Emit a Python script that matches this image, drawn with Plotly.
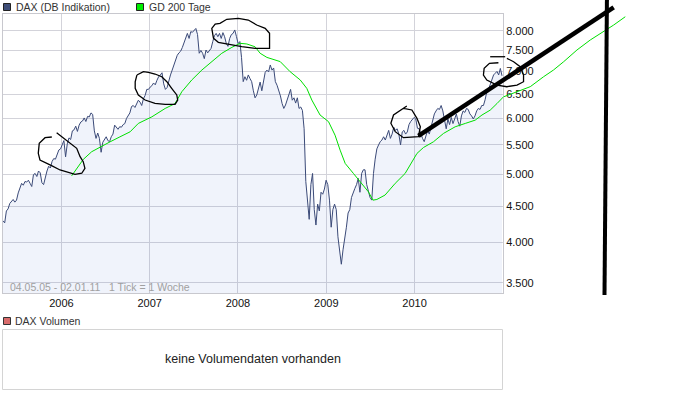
import math
import pandas as pd
import plotly.graph_objects as go

# ---------------- data ----------------
start_date = "2005-05-04"
dax_2005 = [4290, 4260, 4430, 4460, 4540, 4570, 4600, 4560, 4590, 4700, 4790, 4850, 4820, 4880, 4870,
            4900, 4850, 4800, 4990, 5010, 4960, 5050, 5020, 4860, 4830, 4950, 5050, 5130, 5100, 5210,
            5260, 5250, 5340, 5410, 5430]
dax_2006 = [5520, 5580, 5290, 5520, 5630, 5600, 5760, 5780, 5850, 5750, 5870, 5930, 5950, 6010, 5940,
            6040, 6030, 6110, 6080, 5760, 5620, 5720, 5620, 5370, 5550, 5600, 5650, 5580, 5560, 5650,
            5700, 5870, 5820, 5790, 5840, 5830, 5880, 5900, 6000, 6050, 6110, 6240, 6260, 6220, 6280,
            6370, 6330, 6260, 6400, 6470, 6600, 6600]
dax_2007 = [6650, 6680, 6740, 6700, 6800, 6880, 6920, 6970, 6720, 6600, 6640, 6800, 6920, 7030, 7150,
            7260, 7380, 7440, 7480, 7570, 7700, 7850, 7930, 7800, 7975, 7960, 8000, 8060, 7900, 7430,
            7500, 7430, 7300, 7510, 7440, 7500, 7550, 7720, 7870, 7930, 7845, 7930, 7800, 7950, 7845,
            7670, 7600, 7800, 7900, 7930, 8020, 7850]
dax_2008 = [7670, 7720, 7330, 6770, 6880, 6800, 6920, 6840, 6770, 6570, 6420, 6480, 6620, 6760, 6570,
            6770, 6980, 7030, 6990, 7150, 7030, 7080, 6770, 6690, 6580, 6460, 6300, 6200, 6270, 6370,
            6500, 6600, 6370, 6420, 6310, 6420, 6200, 6230, 6160, 5800, 4880, 4600, 4310, 4830, 5010,
            4450, 4230, 4530, 4430, 4710, 4680, 4760, 4900]
dax_2009 = [4830, 4590, 4200, 4450, 4530, 4450, 4070, 3900, 3720, 3900, 4020, 4200, 4400, 4450, 4630,
            4710, 4770, 4830, 4930, 4710, 5010, 5070, 5070, 4830, 4710, 4630, 4590, 5010, 5250, 5430,
            5500, 5560, 5590, 5650, 5590, 5680, 5770, 5620, 5700, 5830, 5770, 5800, 5700, 5500, 5740,
            5770, 5700, 5740, 5880, 5940, 5990, 6020]
dax_2010 = [5990, 5810, 5800, 5700, 5620, 5560, 5650, 5770, 5700, 5810, 5940, 6090, 6150, 6200, 6180,
            6260, 6150, 5940, 5800, 5990, 5880, 6020, 5900, 5990, 6090, 5940, 5850, 6050, 6150, 6120,
            6200, 6180, 6090, 6050, 5990, 6050, 6150, 6200, 6180, 6260, 6260, 6380, 6550, 6600, 6700,
            6810, 6920, 6960, 7000, 6920, 7070, 6900]
dax_values = dax_2005 + dax_2006 + dax_2007 + dax_2008 + dax_2009 + dax_2010
week_dates = pd.date_range(start_date, periods=len(dax_values), freq="7D")

gd200_dates = ["2006-02-12", "2006-04-01", "2006-05-06", "2006-06-10", "2006-07-21", "2006-08-31",
               "2006-10-12", "2006-11-15", "2007-01-10", "2007-03-06", "2007-04-16", "2007-05-14",
               "2007-06-24", "2007-08-05", "2007-09-15", "2007-10-26", "2007-12-07", "2008-01-10",
               "2008-02-07", "2008-03-12", "2008-04-02", "2008-04-30", "2008-06-24", "2008-08-04",
               "2008-09-15", "2008-10-12", "2008-11-02", "2008-12-06", "2009-01-10", "2009-02-06",
               "2009-02-27", "2009-03-20", "2009-04-23", "2009-05-21", "2009-06-24", "2009-07-13",
               "2009-07-29", "2009-09-01", "2009-10-13", "2009-11-23", "2009-12-21", "2010-01-11",
               "2010-02-07", "2010-03-20", "2010-05-01", "2010-06-18", "2010-07-30", "2010-09-09",
               "2010-10-07", "2010-11-10", "2010-12-08", "2011-01-04"]
gd200_values = [4970, 5245, 5380, 5467, 5557, 5649, 5743, 5903, 6032, 6200, 6300, 6550, 6806, 7033,
                7228, 7428, 7575, 7676, 7660, 7590, 7430, 7330, 7230, 6995, 6806, 6623, 6373, 6068,
                5937, 5680, 5408, 5177, 5010, 4874, 4717, 4590, 4600, 4667, 4850, 5010, 5205, 5350,
                5455, 5557, 5713, 5838, 5903, 5967, 6068, 6166, 6300, 6440]

# hand-drawn marks (in chart units: date, index value)
gd_ext_dates = ["2011-01-04", "2011-03-01", "2011-04-25", "2011-06-19", "2011-07-30", "2011-09-10",
                "2011-11-04", "2011-12-29", "2012-02-22", "2012-04-04", "2012-05-22"]
gd_ext_values = [6440, 6550, 6659, 6880, 7033, 7227, 7510, 7760, 7974, 8151, 8376]
trend_dates = ["2010-01-17", "2012-04-04"]
trend_values = [5665, 8638]
vline_dates = ["2012-03-07", "2012-02-26"]
vline_values = [8847, 3363]
c1_dates = ["2005-12-12", "2006-01-09", "2006-02-12", "2006-03-05", "2006-03-19", "2006-04-01",
            "2006-04-08", "2006-03-26", "2006-02-26", "2006-01-23", "2005-12-26", "2005-11-21",
            "2005-10-04", "2005-09-27", "2005-10-01", "2005-10-25", "2005-11-22"]
c1_values = [5726, 5622, 5499, 5440, 5293, 5207, 5095, 5013, 4996, 5029, 5067, 5139, 5236, 5352,
             5530, 5633, 5646]
c2_dates = ["2006-11-09", "2006-12-06", "2006-12-27", "2007-01-23", "2007-02-20", "2007-03-13",
            "2007-04-02", "2007-04-23", "2007-04-27", "2007-04-16", "2007-03-06", "2007-01-23",
            "2006-12-13", "2006-11-15", "2006-11-02", "2006-11-02", "2006-11-09"]
c2_values = [6918, 6994, 6980, 6941, 6880, 6768, 6623, 6480, 6374, 6285, 6285, 6306, 6374, 6480,
             6623, 6768, 6918]
c3_dates = ["2007-09-22", "2007-09-15", "2007-09-29", "2007-10-19", "2007-11-16", "2008-01-03",
            "2008-02-13", "2008-03-19", "2008-04-23", "2008-05-11", "2008-05-11", "2008-03-12",
            "2008-01-17", "2007-12-07", "2007-10-12", "2007-09-22"]
c3_values = [7803, 8063, 8178, 8197, 8305, 8332, 8286, 8151, 8063, 7932, 7551, 7551, 7591, 7634,
             7701, 7803]
c4_dates = ["2009-11-16", "2009-12-21", "2010-01-11", "2010-01-25", "2010-01-17", "2009-11-16",
            "2009-10-13", "2009-09-25", "2009-10-06", "2009-11-03", "2009-11-30"]
c4_values = [6203, 6169, 6003, 5839, 5651, 5633, 5745, 5906, 6068, 6169, 6250]
c5a_dates = ["2010-11-10", "2011-01-11"]
c5a_values = [7346, 7346]
c5b_dates = ["2010-12-14", "2010-11-07", "2010-10-16", "2010-10-13", "2010-10-27", "2010-12-08",
             "2011-01-18", "2011-03-01", "2011-03-28", "2011-03-28", "2011-03-14", "2011-02-15",
             "2011-01-18"]
c5b_values = [7203, 7189, 7072, 6918, 6806, 6695, 6658, 6695, 6768, 6918, 7110, 7227, 7308]

y_tick_vals = [3500, 4000, 4500, 5000, 5500, 6000, 6500, 7000, 7500, 8000]
y_tick_text = ["3.500", "4.000", "4.500", "5.000", "5.500", "6.000", "6.500", "7.000", "7.500", "8.000"]
x_tick_vals = ["2006-01-01", "2007-01-01", "2008-01-01", "2009-01-01", "2010-01-01"]
x_tick_text = ["2006", "2007", "2008", "2009", "2010"]
x_range = ["2005-05-04", "2011-01-02"]
y_range_vals = [3385, 8451]

# ---------------- layout geometry ----------------
W, H = 700, 398
PL, PR, PT, PB = 3, 503, 14, 293
FONT = "Liberation Sans, Arial, sans-serif"


def px(x):
    return x / W


def py(y):
    return 1 - y / H


t0, t1 = pd.Timestamp(x_range[0]), pd.Timestamp(x_range[1])
per_px = (t1 - t0) / (PR - PL)
ov_x = [str(t0 - per_px * PL), str(t1 + per_px * (W - PR))]
ly0, ly1 = math.log10(y_range_vals[0]), math.log10(y_range_vals[1])
per_py = (ly1 - ly0) / (PB - PT)
ov_y = [ly0 - per_py * (H - PB), ly1 + per_py * PT]

fig = go.Figure()
fig.add_trace(go.Scatter(x=week_dates, y=dax_values, mode="lines", name="DAX (DB Indikation)",
                         line=dict(color="#3b4a78", width=1), fill="tozeroy",
                         fillcolor="rgba(40,80,200,0.07)", xaxis="x", yaxis="y"))
fig.add_trace(go.Scatter(x=gd200_dates, y=gd200_values, mode="lines", name="GD 200 Tage",
                         line=dict(color="#00e000", width=1), xaxis="x", yaxis="y"))

# overlay (hand-drawn marks that leave the plot area)
fig.add_trace(go.Scatter(x=gd_ext_dates, y=gd_ext_values, mode="lines",
                         line=dict(color="#00e000", width=1), xaxis="x2", yaxis="y2"))
for dts, vals in [(c1_dates, c1_values), (c2_dates, c2_values), (c3_dates, c3_values),
                  (c4_dates, c4_values), (c5a_dates, c5a_values), (c5b_dates, c5b_values)]:
    fig.add_trace(go.Scatter(x=dts, y=vals, mode="lines", line=dict(color="#000000", width=1.3),
                             xaxis="x2", yaxis="y2"))
fig.add_trace(go.Scatter(x=trend_dates, y=trend_values, mode="lines",
                         line=dict(color="#000000", width=4.5), xaxis="x2", yaxis="y2"))
fig.add_trace(go.Scatter(x=vline_dates, y=vline_values, mode="lines",
                         line=dict(color="#000000", width=4), xaxis="x2", yaxis="y2"))

shapes = [
    # legend squares
    dict(type="rect", xref="paper", yref="paper", x0=px(3.5), x1=px(10.5), y0=py(10.5), y1=py(3.5),
         fillcolor="#3f4e78", line=dict(color="#222222", width=1)),
    dict(type="rect", xref="paper", yref="paper", x0=px(136.5), x1=px(143.5), y0=py(10.5), y1=py(3.5),
         fillcolor="#00ee00", line=dict(color="#222222", width=1)),
    dict(type="rect", xref="paper", yref="paper", x0=px(3.5), x1=px(10.5), y0=py(324.5), y1=py(317.5),
         fillcolor="#d96b6b", line=dict(color="#333333", width=1)),
    # volume panel frame
    dict(type="rect", xref="paper", yref="paper", x0=px(2.5), x1=px(502.5), y0=py(389.5), y1=py(329.5),
         fillcolor="rgba(0,0,0,0)", line=dict(color="#d4d4d4", width=1)),
]

annotations = [
    dict(text="DAX (DB Indikation)", x=px(14), y=py(6.5), xref="paper", yref="paper",
         xanchor="left", yanchor="middle", showarrow=False,
         font=dict(family=FONT, size=10.5, color="#333333")),
    dict(text="GD 200 Tage", x=px(147), y=py(6.5), xref="paper", yref="paper",
         xanchor="left", yanchor="middle", showarrow=False,
         font=dict(family=FONT, size=10.5, color="#333333")),
    dict(text="DAX Volumen", x=px(13), y=py(321), xref="paper", yref="paper",
         xanchor="left", yanchor="middle", showarrow=False,
         font=dict(family=FONT, size=10.5, color="#333333")),
    dict(text="keine Volumendaten vorhanden", x=px(253), y=py(358.5), xref="paper", yref="paper",
         xanchor="center", yanchor="middle", showarrow=False,
         font=dict(family=FONT, size=12.5, color="#222222")),
    dict(text="04.05.05 - 02.01.11\u00a0\u00a0\u00a01 Tick = 1 Woche", x=px(7.5), y=py(287),
         xref="paper", yref="paper", xanchor="left", yanchor="middle", showarrow=False,
         font=dict(family=FONT, size=10.5, color="#a0a0a0")),
]

grid = "#d3d3da"
fig.update_layout(
    width=W, height=H, margin=dict(l=0, r=0, t=0, b=0, pad=0),
    paper_bgcolor="#ffffff", plot_bgcolor="rgba(0,0,0,0)", showlegend=False,
    font=dict(family=FONT, size=11, color="#222222"),
    xaxis=dict(type="date", domain=[px(PL), px(PR)], range=x_range, anchor="y",
               tickmode="array", tickvals=x_tick_vals, ticktext=x_tick_text,
               showgrid=True, gridcolor=grid, gridwidth=1, zeroline=False,
               showline=True, mirror=True, linecolor="#c8c8ce", linewidth=1, ticks="",
               tickfont=dict(family=FONT, size=11, color="#111111")),
    yaxis=dict(type="log", domain=[py(PB), py(PT)], anchor="x", side="right",
               range=[ly0, ly1], tickmode="array", tickvals=y_tick_vals, ticktext=y_tick_text,
               showgrid=True, gridcolor=grid, gridwidth=1, zeroline=False,
               showline=True, mirror=True, linecolor="#c8c8ce", linewidth=1, ticks="",
               tickfont=dict(family=FONT, size=11, color="#111111")),
    xaxis2=dict(type="date", domain=[0, 1], range=ov_x, anchor="y2", visible=False, fixedrange=True),
    yaxis2=dict(type="log", domain=[0, 1], range=ov_y, anchor="x2", visible=False, fixedrange=True),
    shapes=shapes, annotations=annotations, hovermode=False,
)

fig.write_html("out.html", config={"displayModeBar": False, "staticPlot": True},
               post_script="document.body.style.margin='0';document.body.style.overflow='hidden';")
